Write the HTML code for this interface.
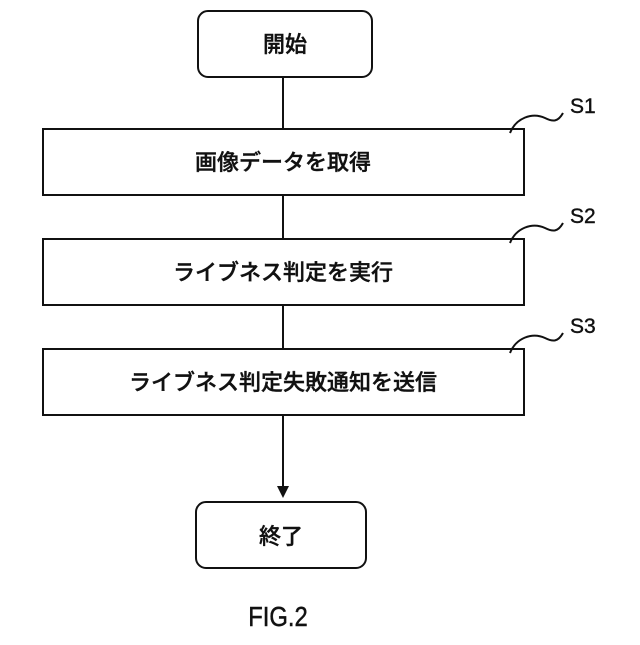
<!DOCTYPE html>
<html><head><meta charset="utf-8"><style>
body{margin:0;background:#fff}
svg text{font-family:"Liberation Sans","Noto Sans CJK JP",sans-serif;fill:#111}
</style></head><body>
<svg width="640" height="640" viewBox="0 0 640 640" xmlns="http://www.w3.org/2000/svg">
<g fill="none" stroke="#111" stroke-width="2">
<rect x="198" y="11" width="174" height="66" rx="10"/>
<line x1="283" y1="77" x2="283" y2="129"/>
<rect x="43" y="129" width="481" height="66"/>
<line x1="283" y1="195" x2="283" y2="239"/>
<rect x="43" y="239" width="481" height="66"/>
<line x1="283" y1="305" x2="283" y2="349"/>
<rect x="43" y="349" width="481" height="66"/>
<line x1="283" y1="415" x2="283" y2="488"/>
<rect x="196" y="502" width="170" height="66" rx="10"/>
<path d="M510 133 C516 118,532 112,545 118 C553 122,558 122,563 113"/>
<path d="M510 243 C516 228,532 222,545 228 C553 232,558 232,563 223"/>
<path d="M510 353 C516 338,532 332,545 338 C553 342,558 342,563 333"/>
</g>
<polygon points="277,486 289,486 283,498" fill="#111"/>
<g font-size="22" text-anchor="middle" font-weight="500" stroke="#111" stroke-width="0.4">
<text x="285" y="52">開始</text>
<text x="283" y="170">画像データを取得</text>
<text x="283" y="280">ライブネス判定を実行</text>
<text x="283" y="390">ライブネス判定失敗通知を送信</text>
<text x="281" y="544">終了</text>
</g>
<g font-size="21" stroke="#111" stroke-width="0.4">
<text x="570" y="113">S1</text>
<text x="570" y="223">S2</text>
<text x="570" y="333">S3</text>
</g>
<text x="278" y="626" font-size="28" text-anchor="middle" stroke="#111" stroke-width="0.5" transform="translate(278 0) scale(0.85 1) translate(-278 0)">FIG.2</text>
</svg>
</body></html>
